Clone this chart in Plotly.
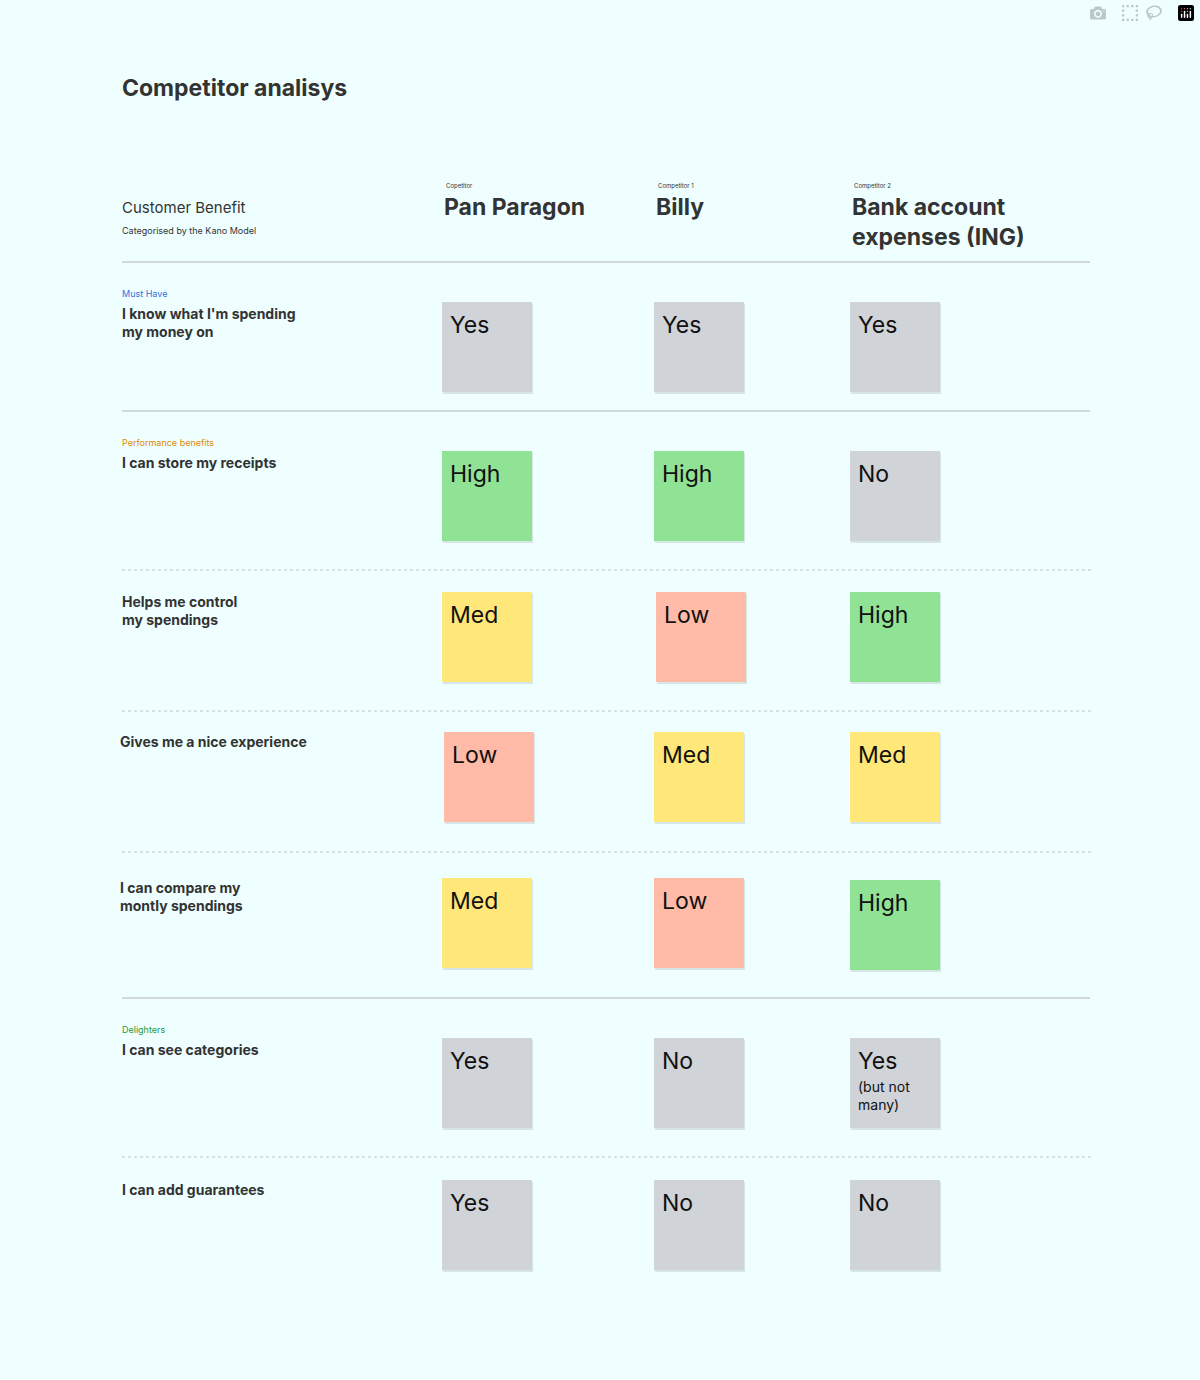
import plotly.graph_objects as go

competitors = ["Pan Paragon", "Billy", "Bank account<br>expenses (ING)"]
competitor_tags = ["Copetitor", "Competitor 1", "Competitor 2"]
benefits = ["I know what I'm spending<br>my money on", "I can store my receipts",
            "Helps me control<br>my spendings", "Gives me a nice experience",
            "I can compare my<br>montly spendings", "I can see categories",
            "I can add guarantees"]
categories = ["Must Have", "Performance benefits", None, None, None, "Delighters", None]
pan_paragon = ["Yes", "High", "Med", "Low", "Med", "Yes", "Yes"]
billy = ["Yes", "High", "Low", "Med", "Low", "No", "No"]
ing = ["Yes", "No", "High", "Med", "High", "Yes", "No"]
ing_notes = ["", "", "", "", "", "(but not<br>many)", ""]

# layout (pixels)
col_x = [442, 654, 850]
row_y = [302, 451, 592, 732, 878, 1038, 1180]
label_x = [122, 122, 122, 120, 120, 122, 122]
offs = {(3, 0): (2, 0), (2, 1): (2, 0), (4, 2): (0, 2)}
seps = [(262, "solid"), (411, "solid"), (570, "dot"), (711, "dot"), (852, "dot"), (998, "solid"), (1157, "dot")]
cat_colors = {"Must Have": "#2F6FE0", "Performance benefits": "#E08A00", "Delighters": "#1E9A3A"}
fill = {"Yes": "#D0D3D8", "No": "#D0D3D8", "High": "#90E294", "Med": "#FFE779", "Low": "#FFBBA8"}
TXT = "#333333"
F = "Inter"

fig = go.Figure()
fig.add_trace(go.Scatter(x=[0, 1200], y=[0, 1380], mode="markers", marker=dict(opacity=0), hoverinfo="skip", showlegend=False))
shapes, ann = [], []

def A(x, y, t, size, color=TXT, weight="normal", yanchor="top"):
    ann.append(dict(x=x, y=y, text=t, showarrow=False, xanchor="left", yanchor=yanchor,
                    font=dict(family=F, size=size, color=color, weight=weight), align="left"))

A(120, 72, "Competitor analisys", 23, weight="bold")
A(120, 196, "Customer Benefit", 15)
A(120, 223, "Categorised by the Kano Model", 9)
for c, (name, tag) in enumerate(zip(competitors, competitor_tags)):
    x = col_x[c] + 2
    A(x, 180, tag, 6)
    A(x - 2, 191, name, 23, weight="bold")

for y, dash in seps:
    shapes.append(dict(type="line", x0=122, x1=1090 if dash == "solid" else 1092, y0=y, y1=y,
                       line=dict(color="#C8CCCC" if dash == "solid" else "#BFC4C4", width=1.3 if dash == "solid" else 1, dash=dash)))

for r, b in enumerate(benefits):
    top = row_y[r]
    if categories[r]:
        A(120, top - 16, categories[r], 9, color=cat_colors[categories[r]])
    A(label_x[r] - 2, top + 1 if categories[r] else top - 1, b, 14, weight="bold")
    for c, vals in enumerate([pan_paragon, billy, ing]):
        dx, dy = offs.get((r, c), (0, 0))
        x0, y0 = col_x[c] + dx, top + dy
        shapes.append(dict(type="rect", x0=x0 + 1, x1=x0 + 91, y0=y0 + 2, y1=y0 + 92,
                           fillcolor="rgba(0,0,0,0.10)", line=dict(width=0)))
        shapes.append(dict(type="rect", x0=x0, x1=x0 + 90, y0=y0, y1=y0 + 90,
                           fillcolor=fill[vals[r]], line=dict(width=0)))
        A(x0 + 6, y0 + 7, vals[r], 23, color="#111111")
        if c == 2 and ing_notes[r]:
            A(x0 + 6, y0 + 38, ing_notes[r], 14, color="#111111")

fig.update_layout(width=1200, height=1380, margin=dict(l=0, r=0, t=0, b=0),
                  paper_bgcolor="#EFFFFF", plot_bgcolor="#EFFFFF",
                  xaxis=dict(range=[0, 1200], visible=False, fixedrange=True),
                  yaxis=dict(range=[1380, 0], visible=False, fixedrange=True),
                  shapes=shapes, annotations=ann, showlegend=False)
fig.write_html("out.html", post_script="document.body.style.margin='0';document.body.style.background='#EFFFFF';")
